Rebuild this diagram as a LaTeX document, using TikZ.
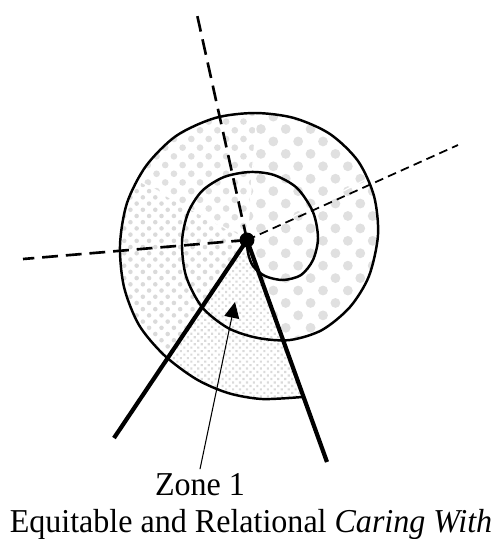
\documentclass[tikz,border=0pt]{standalone}
\usepackage{fontspec}
\setmainfont[FakeStretch=0.96]{Liberation Serif}
\usepackage{tikz}
\usetikzlibrary{arrows.meta, patterns.meta, positioning}
\definecolor{dotgray}{RGB}{224,224,224}
\definecolor{finegray}{RGB}{218,218,218}
\tikzset{
  spiralline/.style={line width=1.4pt, color=black, line join=round},
  ray/.style={line width=2.4pt, color=black},
  dashray/.style={line width=1.5pt, dash pattern=on 9pt off 4.5pt},
  thindash/.style={line width=1pt, dash pattern=on 5pt off 3pt},
  pointer/.style={-{Triangle[length=9pt, width=8.5pt]}, line width=0.6pt},
  seam/.style={white, line width=0.7pt},
  captiontext/.style={font=\fontsize{19}{22}\selectfont, inner sep=2pt},
  bigdots/.style={pattern={Dots[distance=10pt, angle=45, radius=2.8pt]}, pattern color=dotgray},
  middots/.style={pattern={Dots[distance=7pt, angle=45, radius=1.9pt]}, pattern color=dotgray},
  smalldots/.style={pattern={Dots[distance=5pt, angle=45, radius=1.3pt]}, pattern color=finegray},
  finedots/.style={pattern={Dots[distance=2.8pt, angle=45, radius=0.85pt]}, pattern color=finegray}
}

\begin{document}
\begin{tikzpicture}[x=0.02cm, y=-0.02cm]
  \useasboundingbox (0,0) rectangle (498,539);

  % centre and ray ends
  \coordinate (hub) at (247,240);
  \coordinate (upend) at (196,10);
  \coordinate (leftend) at (23,259);
  \coordinate (rightend) at (458,145);
  \coordinate (legA) at (114,438);
  \coordinate (legB) at (327,462);
  \coordinate (tip) at (235,302);

  % spiral, kept for the clip
  \path[save path=\spiralcurve] plot[smooth] coordinates {
    (247,240) (248,253) (253,266) (265,276) (283,280) (301,275) (313,260)
    (318,238) (313,212) (297,188) (274,175) (250,172) (224,177) (202,191)
    (188,213) (182,242) (186,276) (202,307) (228,328) (258,338) (290,340)
    (322,330) (350,307) (369,276) (378,235) (374,196) (358,161) (330,134)
    (294,118) (255,113) (215,118) (176,136) (146,166) (127,203) (120,245)
    (124,287) (139,325) (164,355) (196,379) (228,393) (262,399) (302,397)};

  % patterned sectors
  \begin{scope}
    \clip[use path=\spiralcurve];
    \fill[bigdots] (hub) -- ++(-85.5:320) arc[start angle=-85.5, end angle=70.2, radius=320] -- cycle;
    \fill[middots] (hub) -- ++(-151.3:320) arc[start angle=-151.3, end angle=-85.5, radius=320] -- cycle;
    \fill[smalldots] (hub) -- ++(123.9:320) arc[start angle=123.9, end angle=208.7, radius=320] -- cycle;
    \fill[finedots] (hub) -- ++(70.2:320) arc[start angle=70.2, end angle=123.9, radius=320] -- cycle;
    \draw[seam] (hub) -- ++(-85.5:200);
    \draw[seam] (hub) -- ++(-151.3:200);
    \draw[seam] (hub) -- ++(-27:200);
  \end{scope}

  \draw[spiralline, use path=\spiralcurve];

  % dashed rays
  \draw[dashray] (hub) -- (upend);
  \draw[dashray] (hub) -- (leftend);
  \draw[thindash] (hub) -- (rightend);

  % zone legs
  \draw[ray] (hub) -- (legA);
  \draw[ray] (hub) -- (legB);
  \fill (hub) circle (7.5);

  % caption
  \node[captiontext, anchor=base] (zone) at (200,495) {Zone 1};
  \node[captiontext, anchor=base] (caring) at (251,532) {Equitable and Relational \textit{Caring With}};
  \draw[pointer] (zone.north) -- (tip);
\end{tikzpicture}
\end{document}
